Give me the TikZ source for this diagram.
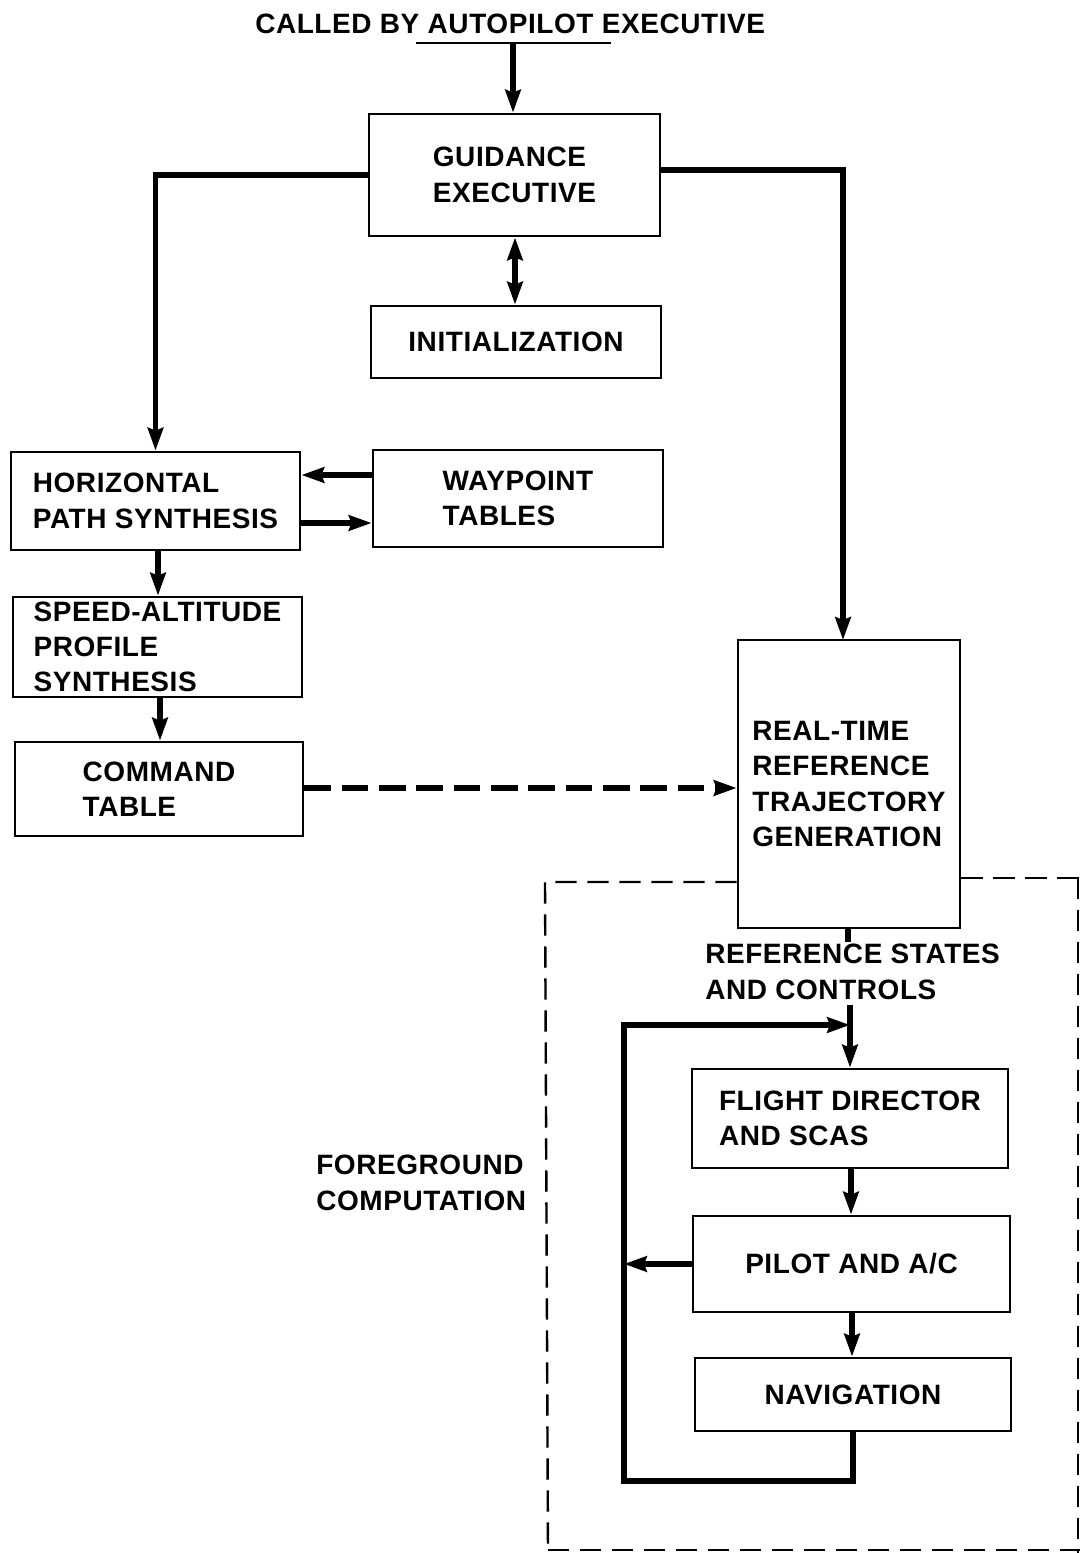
\documentclass[tikz,border=0pt]{standalone}
\usepackage{fontspec}
\setmainfont{Liberation Sans}
\newfontfamily\lblfont{Liberation Sans Bold}[LetterSpace=2]
\usetikzlibrary{arrows.meta}
\newcommand\pxu{0.75pt}
\tikzset{
  lbl/.style={font=\lblfont\fontsize{21}{26.5}\selectfont},
  box/.style={lbl, draw, line width=2.1pt, inner sep=0pt, align=left},
  txt/.style={lbl, inner sep=0pt, align=left},
  conn/.style={line width=3.8pt},
  arr/.style={conn, -{Stealth[length=17pt,width=11.5pt,inset=2pt]}},
  darr/.style={conn, {Stealth[length=17pt,width=11.5pt,inset=2pt]}-{Stealth[length=17pt,width=11.5pt,inset=2pt]}},
  fgdash/.style={line width=1.8pt, dash pattern=on 16pt off 8pt},
  cmdash/.style={dash pattern=on 20pt off 8pt},
}
\begin{document}
\begin{tikzpicture}[x=0.75pt,y=-0.75pt]
\useasboundingbox (0,0) rectangle (1080,1553);

% title
\node[txt, anchor=base west] (title) at (255,33) {CALLED BY AUTOPILOT EXECUTIVE};
\coordinate (ul1) at (416,43);
\coordinate (ul2) at (611,43);
\coordinate (top) at (513,43);
\draw[line width=1.8pt] (ul1) -- (ul2);

% boxes
\node[box, minimum width=291*\pxu, minimum height=122*\pxu] (ge) at (514.5,175) {GUIDANCE\\EXECUTIVE};
\node[box, minimum width=290*\pxu, minimum height=72*\pxu] (init) at (516,342) {INITIALIZATION};
\node[box, minimum width=289*\pxu, minimum height=98*\pxu] (hps) at (155.5,501) {HORIZONTAL\\PATH SYNTHESIS};
\node[box, minimum width=290*\pxu, minimum height=97*\pxu] (wp) at (518,498.5) {WAYPOINT\\TABLES};
\node[box, minimum width=289*\pxu, minimum height=100*\pxu] (sa) at (157.5,647) {SPEED-ALTITUDE\\PROFILE\\SYNTHESIS};
\node[box, minimum width=288*\pxu, minimum height=94*\pxu] (ct) at (159,789) {COMMAND\\TABLE};
\node[box, minimum width=222*\pxu, minimum height=288*\pxu] (rt) at (849,784) {REAL-TIME\\REFERENCE\\TRAJECTORY\\GENERATION};
\node[box, minimum width=316*\pxu, minimum height=99*\pxu] (fd) at (850,1118.5) {FLIGHT DIRECTOR\\AND SCAS};
\node[box, minimum width=317*\pxu, minimum height=96*\pxu] (pac) at (851.5,1264) {PILOT AND A/C};
\node[box, minimum width=316*\pxu, minimum height=73*\pxu] (nav) at (853,1394.5) {NAVIGATION};

% labels
\node[txt, anchor=base west] (rsc) at (705,999) {REFERENCE STATES\\AND CONTROLS};
\node[txt, anchor=base west] (fgc) at (316,1210) {FOREGROUND\\COMPUTATION};

% foreground dashed region
\coordinate (fa) at (545,882);
\coordinate (fb) at (548,1553);
\coordinate (fc) at (1080,1550);
\coordinate (fd1) at (548,1550);
\coordinate (fe) at (1080,878);
\coordinate (ff) at (1078,878);
\coordinate (fg) at (1078,1553);
\draw[fgdash] (rt.west |- fa) -- (fa) -- (fb);
\draw[fgdash] (fd1) -- (fc);
\draw[fgdash] (rt.east |- fe) -- (fe);
\draw[fgdash] (ff) -- (fg);

% connectors
\draw[arr] (top) -- (top |- ge.north);
\draw[arr] (ge.west) -| (hps.north);
\coordinate (ger) at (660,170);
\coordinate (rtin) at (843,640);
\draw[arr] (ger) -| (rtin);
\coordinate (gi) at (515,0);
\draw[darr] (ge.south -| gi) -- (init.north -| gi);
\coordinate (y1) at (0,475);
\coordinate (y2) at (0,523);
\draw[arr] (wp.west |- y1) -- (hps.east |- y1);
\draw[arr] (hps.east |- y2) -- (wp.west |- y2);
\coordinate (x1) at (158,0);
\coordinate (x2) at (160,0);
\draw[arr] (hps.south -| x1) -- (sa.north -| x1);
\draw[arr] (sa.south -| x2) -- (ct.north -| x2);
\coordinate (y3) at (0,788);
\draw[arr, cmdash] (ct.east |- y3) -- (rt.west |- y3);

\coordinate (stub) at (848,942);
\draw[conn] (rt.south -| stub) -- (stub);
\coordinate (rin) at (850,1005);
\coordinate (lp) at (850,1025);
\draw[arr] (rin) -- (fd.north -| rin);
\coordinate (x3) at (851,0);
\coordinate (x4) at (852,0);
\draw[arr] (fd.south -| x3) -- (pac.north -| x3);
\draw[arr] (pac.south -| x4) -- (nav.north -| x4);
\coordinate (lb) at (624,1481);
\coordinate (nx) at (853,0);
\draw[arr] (nav.south -| nx) |- (lb) |- (lp);
\coordinate (lx) at (624,0);
\draw[arr] (pac.west) -- (pac.west -| lx);
\end{tikzpicture}
\end{document}
